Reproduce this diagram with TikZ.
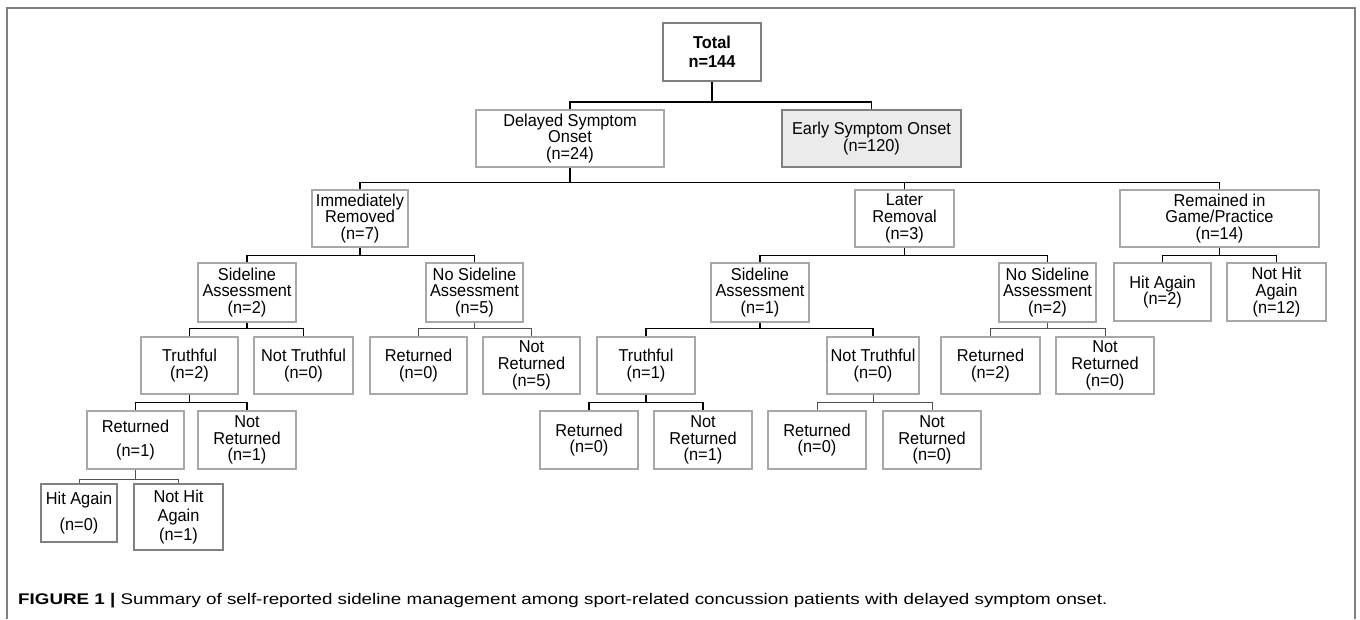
\documentclass[tikz,border=0pt]{standalone}
\usepackage{fontspec}
\setmainfont{Liberation Sans}[FakeStretch=0.95]
\newfontfamily\capfont{Liberation Sans}[FakeStretch=1.22]
\definecolor{boxgray}{HTML}{A8A8A8}
\definecolor{darkgray}{HTML}{808080}
\definecolor{fillgray}{HTML}{EBEBEB}
\definecolor{linegray}{HTML}{505050}
\begin{document}
\begin{tikzpicture}[x=1pt,y=-1pt,
  box/.style={draw=boxgray,line width=1.1pt,fill=white,align=center,inner sep=1pt,
    minimum width=98pt,minimum height=57pt,font=\fontsize{17.2}{16.8}\selectfont},
  strongbox/.style={box,draw=darkgray,line width=2pt},
  trunk/.style={line width=1.6pt,black},
  twig/.style={line width=0.9pt,linegray}]
\useasboundingbox (0,0) rectangle (1360,619);
% frame
\draw[darkgray,line width=2pt] (7,619) -- (7,8) -- (1355,8) -- (1355,619);

% level 0 and 1
\node[strongbox,minimum height=58pt,font=\fontsize{17.2}{18.5}\selectfont\bfseries] (total) at (712,52) {Total\\n=144};
\node[box,minimum width=188pt] (delayed) at (570,138.5) {Delayed Symptom\\Onset\\(n=24)};
\node[strongbox,fill=fillgray,minimum width=179pt] (early) at (871.5,138.5) {Early Symptom Onset\\(n=120)};

% level 2
\node[box,minimum width=96pt] (imm) at (360,218.5) {Immediately\\Removed\\(n=7)};
\node[box,minimum width=99pt] (later) at (904.5,218.5) {Later\\Removal\\(n=3)};
\node[box,minimum width=199pt] (remained) at (1219.5,218.5) {Remained in\\Game/Practice\\(n=14)};

% level 3
\node[box,minimum height=59pt] (sideA) at (247,292.5) {Sideline\\Assessment\\(n=2)};
\node[box,minimum width=97pt,minimum height=59pt] (nosideA) at (474.5,292.5) {No Sideline\\Assessment\\(n=5)};
\node[box,minimum height=59pt] (sideB) at (760,292.5) {Sideline\\Assessment\\(n=1)};
\node[box,minimum width=97pt,minimum height=59pt] (nosideB) at (1047.5,292.5) {No Sideline\\Assessment\\(n=2)};
\node[box,minimum width=97pt,minimum height=58pt] (hitR) at (1162.5,292) {Hit Again\\(n=2)};
\node[box,minimum width=99pt,minimum height=58pt] (nothitR) at (1276.5,292) {Not Hit\\Again\\(n=12)};

% level 4
\node[box,minimum width=97pt] (truthA) at (189.5,365.5) {Truthful\\(n=2)};
\node[box,minimum width=99pt] (nottruthA) at (303.5,365.5) {Not Truthful\\(n=0)};
\node[box,minimum width=97pt] (retA) at (418.5,365.5) {Returned\\(n=0)};
\node[box,minimum width=97pt] (notretA) at (531.5,365.5) {Not\\Returned\\(n=5)};
\node[box] (truthB) at (646,365.5) {Truthful\\(n=1)};
\node[box,minimum width=92pt] (nottruthB) at (873,365.5) {Not Truthful\\(n=0)};
\node[box,minimum width=99pt] (retB) at (990.5,365.5) {Returned\\(n=2)};
\node[box] (notretB) at (1105,365.5) {Not\\Returned\\(n=0)};

% level 5
\node[box,minimum width=97pt,minimum height=58pt,font=\fontsize{17.2}{24}\selectfont] (retC) at (135.5,440) {Returned\\(n=1)};
\node[box,minimum height=58pt] (notretC) at (247,440) {Not\\Returned\\(n=1)};
\node[box,minimum height=58pt] (retD) at (589,440) {Returned\\(n=0)};
\node[box,minimum height=58pt] (notretD) at (703,440) {Not\\Returned\\(n=1)};
\node[box,minimum height=58pt] (retE) at (817,440) {Returned\\(n=0)};
\node[box,minimum height=58pt] (notretE) at (932,440) {Not\\Returned\\(n=0)};

% level 6
\node[strongbox,minimum width=76pt,minimum height=58pt,font=\fontsize{17.2}{26}\selectfont] (hitL) at (79,513) {Hit Again\\(n=0)};
\node[strongbox,minimum width=89pt,minimum height=66pt,font=\fontsize{17.2}{19}\selectfont] (nothitL) at (178.5,517) {Not Hit\\Again\\(n=1)};

% connectors
\draw[trunk] (total.south) -- ++(0,20) coordinate (j0);
\draw[trunk] (delayed.north) |- (j0) -| (early.north);
\draw[trunk] (delayed.south) -- ++(0,15) coordinate (j1);
\draw[trunk] (imm.north) |- (j1) -| (remained.north);
\draw[trunk] (later.north) |- (j1);
\draw[trunk] (imm.south) -- ++(0,8) coordinate (j2);
\draw[trunk] (sideA.north) |- (j2) -| (nosideA.north);
\draw[trunk] (later.south) -- ++(0,8) coordinate (j3);
\draw[trunk] (sideB.north) |- (j3) -| (nosideB.north);
\draw[trunk] (remained.south) -- ++(0,8) coordinate (j4);
\draw[trunk] (hitR.north) |- (j4) -| (nothitR.north);
\draw[trunk] (sideA.south) -- ++(0,6) coordinate (j5);
\draw[trunk] (truthA.north) |- (j5) -| (nottruthA.north);
\draw[twig] (nosideA.south) -- ++(0,6) coordinate (j6);
\draw[twig] (retA.north) |- (j6) -| (notretA.north);
\draw[trunk] (sideB.south) -- ++(0,6) coordinate (j7);
\draw[trunk] (truthB.north) |- (j7) -| (nottruthB.north);
\draw[twig] (nosideB.south) -- ++(0,6) coordinate (j8);
\draw[twig] (retB.north) |- (j8) -| (notretB.north);
\draw[trunk] (truthA.south) -- ++(0,8) coordinate (j9);
\draw[trunk] (retC.north) |- (j9) -| (notretC.north);
\draw[trunk] (truthB.south) -- ++(0,8) coordinate (j10);
\draw[trunk] (retD.north) |- (j10) -| (notretD.north);
\draw[twig] (nottruthB.south) -- ++(0,8) coordinate (j11);
\draw[twig] (retE.north) |- (j11) -| (notretE.north);
\draw[twig] (retC.south) -- ++(0,10) coordinate (j12);
\draw[twig] (hitL.north) |- (j12) -| (nothitL.north);

% caption
\node[anchor=base west,inner sep=0pt,font=\capfont\fontsize{15.4}{18}\selectfont] (caption) at (18,604)
  {\textbf{FIGURE 1 |} Summary of self-reported sideline management among sport-related concussion patients with delayed symptom onset.};
\end{tikzpicture}
\end{document}
